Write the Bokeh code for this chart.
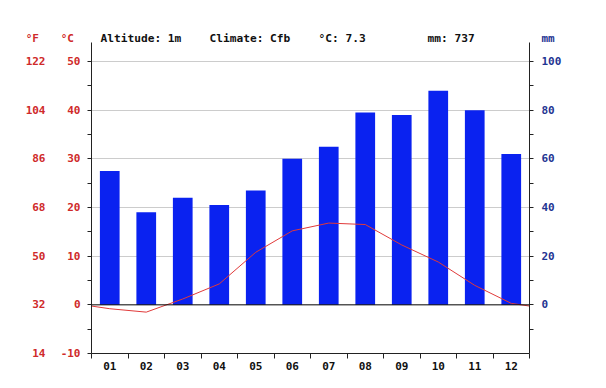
from bokeh.plotting import figure
from bokeh.models import Range1d, LinearAxis, FixedTicker, Span, Label
from bokeh.embed import file_html
from bokeh.resources import INLINE

months = ["01", "02", "03", "04", "05", "06", "07", "08", "09", "10", "11", "12"]
precip_mm = [55, 38, 44, 41, 47, 60, 65, 79, 78, 88, 80, 62]
temp_c = [-0.8, -1.5, 1.2, 4.3, 10.8, 15.2, 16.8, 16.5, 12.3, 8.8, 4.0, 0.3]
c_ticks = [-10, 0, 10, 20, 30, 40, 50]
c_minor = [-5, 5, 15, 25, 35, 45]
f_ticks = [14, 32, 50, 68, 86, 104, 122]
mm_ticks = [0, 20, 40, 60, 80, 100]
mm_minor = [-10, 10, 30, 50, 70, 90]
header = ["Altitude: 1m", "Climate: Cfb", "°C: 7.3", "mm: 737"]

FONT = "DejaVu Sans Mono"
RED = "#cf2a2a"
NAVY = "#1f3592"
BLUE = "#0a22f0"
AX = "#222222"

# layout (page pixels)
FRAME_TOP, AXIS_TOP, HEAD_Y, Y50, FRAME_BOT = 28, 42, 37.5, 61, 353
C_BOT = -10
PX = (FRAME_BOT - Y50) / (50 - C_BOT)           # pixels per °C
C_TOP = 50 + (Y50 - FRAME_TOP) / PX             # frame top in °C
C_AXTOP = 50 + (Y50 - AXIS_TOP) / PX            # axis line top in °C
C_HEAD = 50 + (Y50 - HEAD_Y) / PX               # header text row in °C

def c2f(c):
    return c * 9 / 5 + 32

p = figure(width=600, height=380, output_backend="svg", toolbar_location=None,
           x_range=Range1d(0.5, 12.5), y_range=Range1d(C_BOT, C_TOP),
           min_border_left=91, min_border_right=71, min_border_top=FRAME_TOP,
           min_border_bottom=380 - FRAME_BOT)
p.outline_line_color = None
p.background_fill_color = "white"

p.extra_y_ranges = {
    "mm": Range1d(2 * C_BOT, 2 * C_TOP),
    "F": Range1d(c2f(C_BOT), c2f(C_TOP)),
}

# grid
p.xgrid.visible = False
p.ygrid.ticker = FixedTicker(ticks=[t for t in c_ticks if t > 0])
p.ygrid.grid_line_color = "#cccccc"

# bars (precipitation)
xs = list(range(1, 13))
p.vbar(x=xs, top=precip_mm, bottom=0, width=0.54, fill_color=BLUE, line_color=None,
       y_range_name="mm")

# zero line
p.add_layout(Span(location=0, dimension="width", line_color="black", line_width=1))

# temperature line
edge = (temp_c[0] + temp_c[-1]) / 2
p.line(x=[0.5] + xs + [12.5], y=[edge] + temp_c + [edge], line_color="#e03a3a", line_width=1)


def style_labels(ax, color, standoff):
    ax.major_label_standoff = standoff
    ax.major_label_text_color = color
    ax.major_label_text_font = FONT
    ax.major_label_text_font_style = "bold"
    ax.major_label_text_font_size = "11px"


def style_line_axis(ax, ticks, minor):
    ax.ticker = FixedTicker(ticks=ticks, minor_ticks=minor)
    ax.major_tick_out = 4
    ax.major_tick_in = 0
    ax.minor_tick_out = 4
    ax.minor_tick_in = 0
    ax.axis_line_color = AX
    ax.major_tick_line_color = AX
    ax.minor_tick_line_color = AX
    ax.major_label_overrides = {t: "" for t in ticks}
    ax.major_label_standoff = 0


def label_only_axis(ax, ticks, labels):
    ax.ticker = FixedTicker(ticks=ticks, minor_ticks=[])
    ax.axis_line_color = None
    ax.major_tick_line_color = None
    ax.minor_tick_line_color = None
    ax.major_tick_out = 0
    ax.major_tick_in = 0
    ax.minor_tick_out = 0
    ax.minor_tick_in = 0
    ax.major_label_overrides = dict(zip(ticks, labels))


# left: axis line with ticks (°C), limited to the chart area
ya = p.yaxis[0]
style_line_axis(ya, c_ticks, c_minor)
ya.bounds = (C_BOT, C_AXTOP)

# left: °C labels (with header "°C")
ca = LinearAxis()
label_only_axis(ca, c_ticks + [C_HEAD], [str(t) for t in c_ticks] + ["°C\u00a0"])
style_labels(ca, RED, 7)
p.add_layout(ca, "left")

# left: °F labels (with header "°F")
fa = LinearAxis(y_range_name="F")
label_only_axis(fa, f_ticks + [c2f(C_HEAD)], [str(t) for t in f_ticks] + ["°F\u00a0"])
style_labels(fa, RED, 12)
p.add_layout(fa, "left")

# right: mm axis line with ticks
ra = LinearAxis(y_range_name="mm")
style_line_axis(ra, mm_ticks, mm_minor)
ra.bounds = (2 * C_BOT, 2 * C_AXTOP)
p.add_layout(ra, "right")

# right: mm labels (with header "mm")
rl = LinearAxis(y_range_name="mm")
label_only_axis(rl, mm_ticks + [2 * C_HEAD], [str(t) for t in mm_ticks] + ["mm"])
style_labels(rl, NAVY, 8)
p.add_layout(rl, "right")

# bottom month axis
xa = p.xaxis[0]
xa.ticker = FixedTicker(ticks=xs, minor_ticks=[i + 0.5 for i in range(0, 13)])
xa.major_label_overrides = {i + 1: m for i, m in enumerate(months)}
xa.major_tick_out = 0
xa.major_tick_in = 0
xa.major_tick_line_color = None
xa.minor_tick_out = 5
xa.minor_tick_in = 0
xa.minor_tick_line_color = AX
xa.axis_line_color = AX
style_labels(xa, "#111111", 3)

# header texts (inside the frame, above the axis top)
for off, t in zip([9, 118, 227, 336], header):
    p.add_layout(Label(x=0.5, y=C_HEAD, x_offset=off, text=t,
                       text_color="#111111", text_font=FONT, text_font_style="bold",
                       text_font_size="11.2px", text_baseline="middle", text_align="left"))

open("out.html", "w").write(file_html(p, INLINE))
